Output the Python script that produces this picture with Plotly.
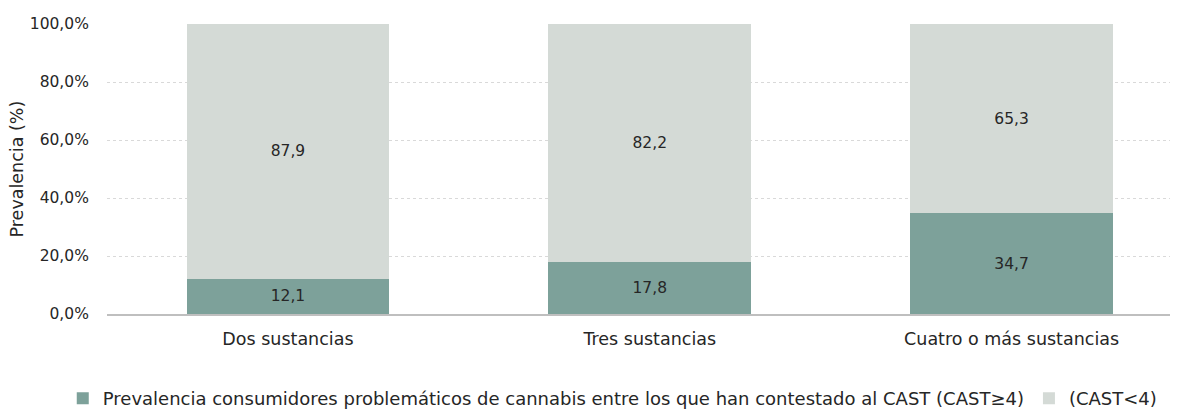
import plotly.graph_objects as go

categories = ["Dos sustancias", "Tres sustancias", "Cuatro o más sustancias"]
problematicos = [12.1, 17.8, 34.7]
no_problematicos = [87.9, 82.2, 65.3]
series_names = ["Prevalencia consumidores problemáticos de cannabis entre los que han contestado al CAST (CAST≥4)", "(CAST<4)"]
y_ticks = [0, 20, 40, 60, 80, 100]
y_tick_labels = ["0,0%", "20,0%", "40,0%", "60,0%", "80,0%", "100,0%"]
y_title = "Prevalencia (%)"

dark = "#7DA19A"
light = "#D4DAD6"
font = "DejaVu Sans"
txt = "#262626"

fig = go.Figure()
for vals, name, col in [(problematicos, series_names[0], dark), (no_problematicos, series_names[1], light)]:
    fig.add_trace(go.Bar(
        x=categories, y=vals, name=name,
        marker=dict(color=col, line=dict(width=0)),
        text=[f"{v:.1f}".replace(".", ",") for v in vals],
        textposition="inside", insidetextanchor="middle",
        textfont=dict(color=txt, size=15.5, family=font),
        width=0.56,
    ))

fig.update_layout(
    barmode="stack",
    width=1178, height=412,
    margin=dict(l=99, r=0, t=16, b=106, autoexpand=False),
    paper_bgcolor="white", plot_bgcolor="white",
    separators=",.",
    font=dict(family=font, color=txt, size=14),
    showlegend=True,
    legend=dict(orientation="h", x=-0.041, y=-0.228, xanchor="left", yanchor="top",
                font=dict(size=18, family=font, color=txt),
                traceorder="normal", itemwidth=30),
    uniformtext=dict(mode="show", minsize=10),
    annotations=[dict(text=y_title, textangle=-90, xref="paper", yref="paper",
                      x=-0.083, y=0.5, xanchor="center", yanchor="middle",
                      showarrow=False, font=dict(size=17.5, family=font, color=txt))],
)
fig.update_xaxes(
    range=[-0.5, 2.482], automargin=False,
    showline=True, linecolor="#BFBFBF", linewidth=1.5,
    showgrid=False, ticks="outside", ticklen=8, tickcolor="rgba(0,0,0,0)",
    tickfont=dict(size=17.5, color=txt, family=font),
)
fig.update_yaxes(
    range=[0, 100], automargin=False,
    tickvals=y_ticks, ticktext=y_tick_labels,
    showgrid=True, gridcolor="#D9D9D9", griddash="dot", gridwidth=1,
    zeroline=False, showline=False,
    ticks="outside", ticklen=14, tickcolor="rgba(0,0,0,0)",
    tickfont=dict(size=15.5, color=txt, family=font),
)
fig.write_html("out.html")
